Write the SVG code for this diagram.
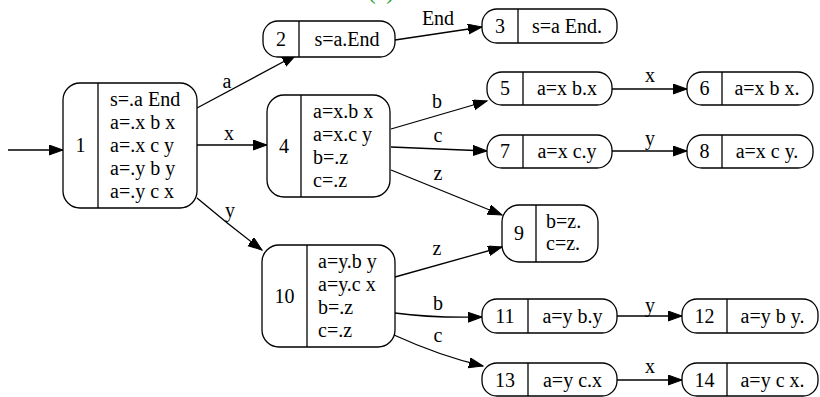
<svg xmlns="http://www.w3.org/2000/svg" width="820" height="397" viewBox="0 0 820 397" font-family="'Liberation Serif', 'Times New Roman', serif">
<defs>
<style>
.n{fill:#fff;stroke:#000;stroke-width:1.3}
.d{stroke:#000;stroke-width:1.3}
text{font-family:'Liberation Serif','Times New Roman',serif !important;font-size:20px;fill:#000}
.m{text-anchor:middle}
.e{fill:none;stroke:#000;stroke-width:1.3;marker-end:url(#ah)}
</style>
<marker id="ah" markerUnits="userSpaceOnUse" markerWidth="16" markerHeight="12" refX="14" refY="5" orient="auto">
<path d="M0,0 L14,5 L0,10 Z" fill="#000" stroke="#000" stroke-width="1"/>
</marker>
</defs>
<rect width="820" height="397" fill="#fff"/>
<text x="381" y="-1" class="m" style="font-size:24px;fill:#22a022">(a)</text>
<g id="edges">
<path class="e" d="M8,150 L63,150"/>
<path class="e" d="M197,108 L296,55"/>
<text x="227" y="88" class="m">a</text>
<path class="e" d="M197,145 L267,145"/>
<text x="229" y="140" class="m">x</text>
<path class="e" d="M197,198 Q230,226 262,250"/>
<text x="230" y="217" class="m">y</text>
<path class="e" d="M395,40 L482,27"/>
<text x="438" y="25" class="m">End</text>
<path class="e" d="M391,129 L487,101"/>
<text x="437" y="108" class="m">b</text>
<path class="e" d="M391,147 L487,151"/>
<text x="438" y="142" class="m">c</text>
<path class="e" d="M391,170 L502,215"/>
<text x="438" y="180" class="m">z</text>
<path class="e" d="M395,277 L502,247"/>
<text x="437" y="255" class="m">z</text>
<path class="e" d="M395,313 Q430,318 482,317"/>
<text x="438" y="310" class="m">b</text>
<path class="e" d="M394,335 Q440,356 483,366"/>
<text x="438" y="342" class="m">c</text>
<path class="e" d="M612,89 L687,89"/>
<text x="650" y="82" class="m">x</text>
<path class="e" d="M612,151 L687,151"/>
<text x="650" y="145" class="m">y</text>
<path class="e" d="M617,316 L682,316"/>
<text x="650" y="312" class="m">y</text>
<path class="e" d="M617,380 L682,380"/>
<text x="650" y="373" class="m">x</text>
</g>
<g id="n1">
<rect class="n" x="63" y="83" width="134" height="125" rx="17"/>
<line class="d" x1="98" y1="83" x2="98" y2="208"/>
<text x="80.5" y="152" class="m">1</text>
<text x="110" y="106">s=.a End</text>
<text x="110" y="129">a=.x b x</text>
<text x="110" y="152">a=.x c y</text>
<text x="110" y="175">a=.y b y</text>
<text x="110" y="198">a=.y c x</text>
</g>
<g id="n2">
<rect class="n" x="263" y="21" width="132" height="36" rx="15"/>
<line class="d" x1="299" y1="21" x2="299" y2="57"/>
<text x="281" y="46" class="m">2</text>
<text x="347" y="46" class="m">s=a.End</text>
</g>
<g id="n3">
<rect class="n" x="482" y="9" width="135" height="34" rx="15"/>
<line class="d" x1="518" y1="9" x2="518" y2="43"/>
<text x="500" y="33" class="m">3</text>
<text x="567" y="33" class="m">s=a End.</text>
</g>
<g id="n4">
<rect class="n" x="267" y="95" width="123" height="102" rx="17"/>
<line class="d" x1="301" y1="95" x2="301" y2="197"/>
<text x="284" y="153" class="m">4</text>
<text x="313" y="118">a=x.b x</text>
<text x="313" y="141">a=x.c y</text>
<text x="313" y="164">b=.z</text>
<text x="313" y="187">c=.z</text>
</g>
<g id="n5">
<rect class="n" x="487" y="72" width="125" height="33" rx="15"/>
<line class="d" x1="523" y1="72" x2="523" y2="105"/>
<text x="505" y="95" class="m">5</text>
<text x="567" y="95" class="m">a=x b.x</text>
</g>
<g id="n6">
<rect class="n" x="687" y="72" width="126" height="33" rx="15"/>
<line class="d" x1="722" y1="72" x2="722" y2="105"/>
<text x="704.5" y="95" class="m">6</text>
<text x="767" y="95" class="m">a=x b x.</text>
</g>
<g id="n7">
<rect class="n" x="487" y="135" width="125" height="33" rx="15"/>
<line class="d" x1="523" y1="135" x2="523" y2="168"/>
<text x="505" y="158" class="m">7</text>
<text x="567" y="158" class="m">a=x c.y</text>
</g>
<g id="n8">
<rect class="n" x="687" y="135" width="126" height="33" rx="15"/>
<line class="d" x1="722" y1="135" x2="722" y2="168"/>
<text x="704.5" y="158" class="m">8</text>
<text x="767" y="158" class="m">a=x c y.</text>
</g>
<g id="n9">
<rect class="n" x="502" y="205" width="96" height="57" rx="17"/>
<line class="d" x1="536" y1="205" x2="536" y2="262"/>
<text x="519" y="240" class="m">9</text>
<text x="546" y="228">b=z.</text>
<text x="546" y="250">c=z.</text>
</g>
<g id="n10">
<rect class="n" x="262" y="245" width="133" height="102" rx="17"/>
<line class="d" x1="307" y1="245" x2="307" y2="347"/>
<text x="284.5" y="303" class="m">10</text>
<text x="318" y="268">a=y.b y</text>
<text x="318" y="291">a=y.c x</text>
<text x="318" y="314">b=.z</text>
<text x="318" y="337">c=.z</text>
</g>
<g id="n11">
<rect class="n" x="482" y="299" width="135" height="34" rx="15"/>
<line class="d" x1="528" y1="299" x2="528" y2="333"/>
<text x="505" y="323" class="m">11</text>
<text x="572.5" y="323" class="m">a=y b.y</text>
</g>
<g id="n12">
<rect class="n" x="682" y="299" width="136" height="34" rx="15"/>
<line class="d" x1="727" y1="299" x2="727" y2="333"/>
<text x="704.5" y="323" class="m">12</text>
<text x="772.5" y="323" class="m">a=y b y.</text>
</g>
<g id="n13">
<rect class="n" x="482" y="363" width="135" height="33" rx="15"/>
<line class="d" x1="528" y1="363" x2="528" y2="396"/>
<text x="505" y="387" class="m">13</text>
<text x="572.5" y="387" class="m">a=y c.x</text>
</g>
<g id="n14">
<rect class="n" x="682" y="363" width="136" height="33" rx="15"/>
<line class="d" x1="727" y1="363" x2="727" y2="396"/>
<text x="704.5" y="387" class="m">14</text>
<text x="772.5" y="387" class="m">a=y c x.</text>
</g>
</svg>
